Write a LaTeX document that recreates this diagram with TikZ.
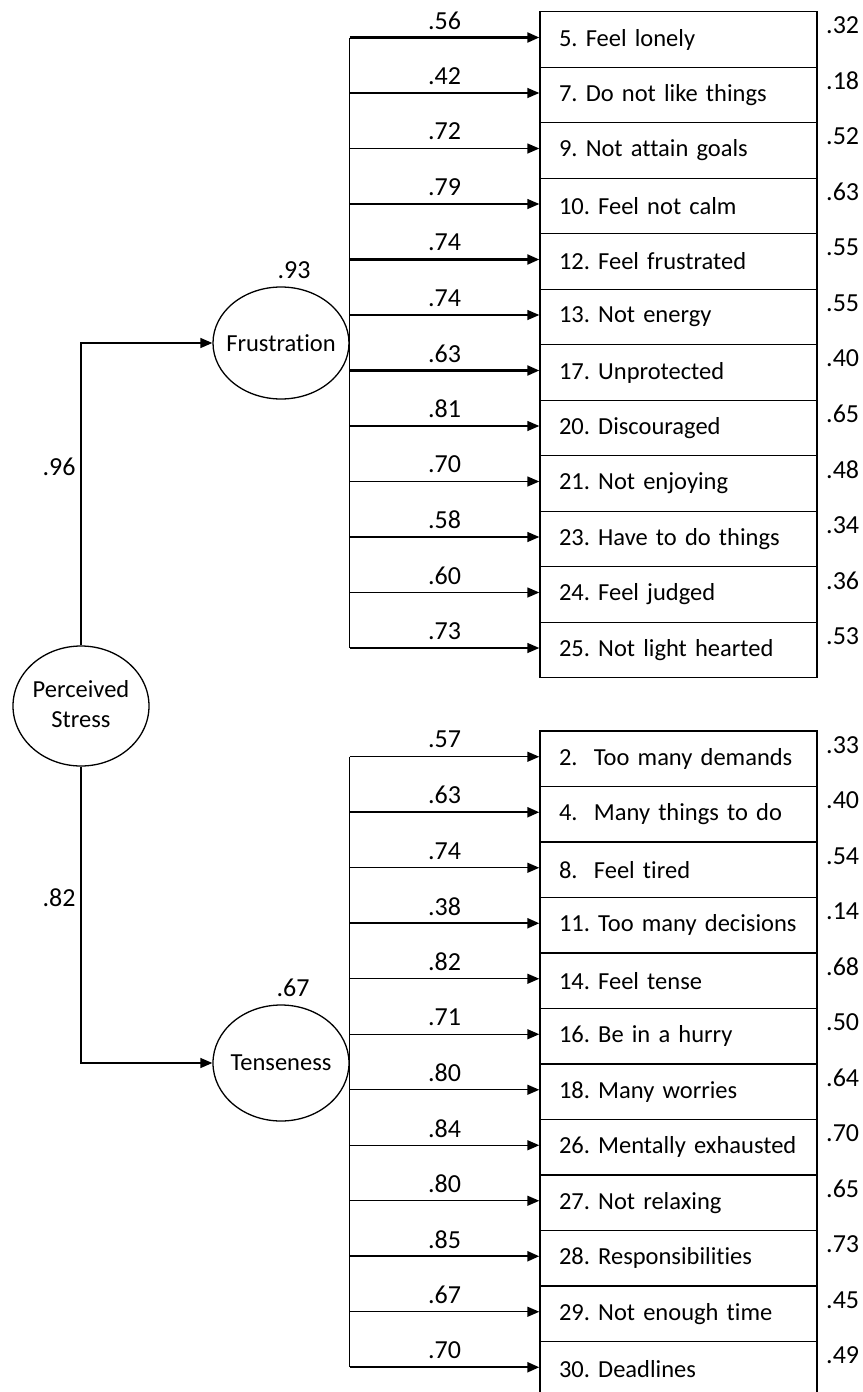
\documentclass[tikz,border=0pt]{standalone}
\usepackage{fontspec}
\setmainfont{Carlito}[Ligatures=NoCommon]
\usetikzlibrary{arrows.meta,shapes.geometric}
\frenchspacing
\begin{document}
\begin{tikzpicture}[x=1pt,y=-1pt,
  every node/.style={font=\frenchspacing\fontsize{24.5}{34}\selectfont},
  item/.style={draw, line width=1.4pt, minimum width=277pt, minimum height=55.5pt,
    text width=239pt, inner xsep=19pt, inner ysep=0pt, align=left, anchor=center},
  latent/.style={ellipse, draw, line width=1.3pt, inner sep=0pt, minimum width=136pt},
  arr/.style={-{Triangle[length=12pt,width=10pt]}, line width=1.4pt},
  conn/.style={line width=1.4pt},
  num/.style={inner sep=0pt, font=\fontsize{26}{30}\selectfont}]
\useasboundingbox (0,0) rectangle (862,1392);

% latent variables
\node[latent, minimum height=112pt] (F) at (281,343) {\makebox[0pt]{Frustration}};
\node[latent, minimum height=116pt] (T) at (281,1063) {\makebox[0pt]{Tenseness}};
\node[latent, minimum height=120pt] (P) at (81,706)
  {\makebox[0pt]{\begin{tabular}{@{}c@{}}Perceived\\[-4pt]Stress\end{tabular}}};

\draw[arr] (P.north) |- (F.west);
\draw[arr] (P.south) |- (T.west);

\node[num] (l96) at (59,467) {.96};
\node[num] (l82) at (59,898) {.82};
\node[num] (l93) at (294,270) {.93};
\node[num] (l67) at (293,988) {.67};

% Frustration items
\foreach \k/\itm/\lo/\ex/\lw in {
  1/5. Feel lonely/.56/.32/2.2,
  2/7. Do not like things/.42/.18/1.4,
  3/9. Not attain goals/.72/.52/1.4,
  4/10. Feel not calm/.79/.63/1.4,
  5/12. Feel frustrated/.74/.55/2.2,
  6/13. Not energy/.74/.55/1.4,
  7/17. Unprotected/.63/.40/2.2,
  8/20. Discouraged/.81/.65/1.4,
  9/21. Not enjoying/.70/.48/1.4,
  10/23. Have to do things/.58/.34/1.4,
  11/24. Feel judged/.60/.36/1.4,
  12/25. Not light hearted/.73/.53/1.4}{
  \pgfmathsetmacro\yy{39.5+55.5*(\k-1)}
  \node[item] (u\k) at (678.5,\yy) {\itm};
  \coordinate (ua\k) at ([yshift=2pt]u\k.west);
  \draw[arr, line width=\lw pt] (F.east |- ua\k) -- (ua\k);
  \node[num] (ul\k) at (444.5,\yy-19) {\lo};
  \node[num, anchor=west] (ur\k) at (826,\yy-14) {\ex};
}
\draw[conn] (F.east |- ua1) -- (F.east |- ua12);

% Tenseness items
\foreach \k/\itm/\lo/\ex/\lw in {
  1/2.~ Too many demands/.57/.33/1.4,
  2/4.~ Many things to do/.63/.40/2.2,
  3/8.~ Feel tired/.74/.54/1.4,
  4/11. Too many decisions/.38/.14/2.2,
  5/14. Feel tense/.82/.68/1.4,
  6/16. Be in a hurry/.71/.50/1.4,
  7/18. Many worries/.80/.64/1.4,
  8/26. Mentally exhausted/.84/.70/1.4,
  9/27. Not relaxing/.80/.65/1.4,
  10/28. Responsibilities/.85/.73/2.2,
  11/29. Not enough time/.67/.45/1.4,
  12/30. Deadlines/.70/.49/2.2}{
  \pgfmathsetmacro\yy{758.75+55.5*(\k-1)}
  \node[item] (d\k) at (678.5,\yy) {\itm};
  \coordinate (da\k) at ([yshift=2pt]d\k.west);
  \draw[arr, line width=\lw pt] (T.east |- da\k) -- (da\k);
  \node[num] (dl\k) at (444.5,\yy-19) {\lo};
  \node[num, anchor=west] (dr\k) at (826,\yy-14) {\ex};
}
\draw[conn] (T.east |- da1) -- (T.east |- da12);
\end{tikzpicture}
\end{document}
